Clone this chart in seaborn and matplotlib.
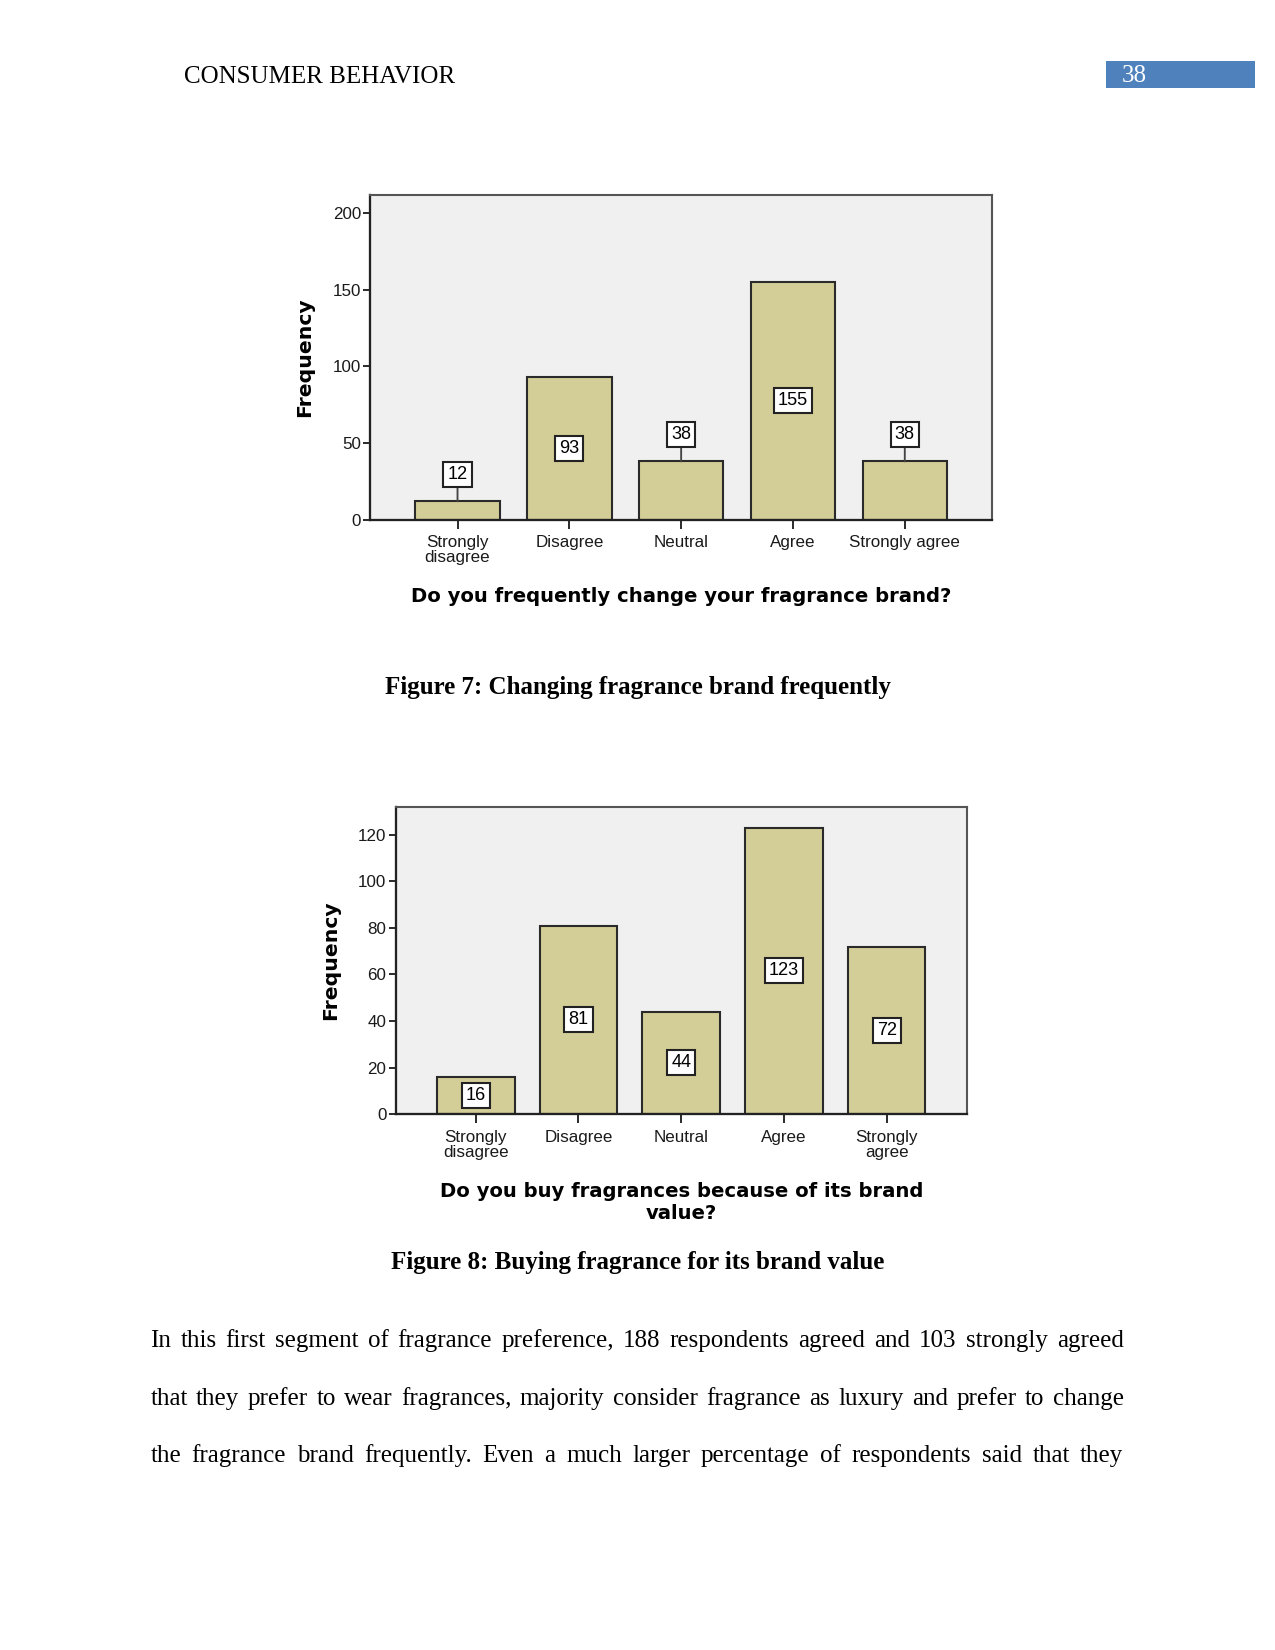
import numpy as np
import pandas as pd
import matplotlib
matplotlib.use("Agg")
import matplotlib.pyplot as plt
from matplotlib.patches import Rectangle
import seaborn as sns

# ---------------- data ----------------
header_text = "CONSUMER BEHAVIOR"
page_number = "38"

categories1 = ["Strongly\ndisagree", "Disagree", "Neutral", "Agree", "Strongly agree"]
values1 = [12, 93, 38, 155, 38]
yticks1 = [0, 50, 100, 150, 200]
xlabel1 = "Do you frequently change your fragrance brand?"
caption1 = "Figure 7: Changing fragrance brand frequently"

categories2 = ["Strongly\ndisagree", "Disagree", "Neutral", "Agree", "Strongly\nagree"]
values2 = [16, 81, 44, 123, 72]
yticks2 = [0, 20, 40, 60, 80, 100, 120]
xlabel2 = "Do you buy fragrances because of its brand\nvalue?"
caption2 = "Figure 8: Buying fragrance for its brand value"

ylabel = "Frequency"

body_lines = [
    "In this first segment of fragrance preference, 188 respondents agreed and 103 strongly agreed",
    "that they prefer to wear fragrances, majority consider fragrance as luxury and prefer to change",
    "the fragrance brand frequently. Even a much larger percentage of respondents said that they",
]

# ---------------- style ----------------
sns.set_theme(style="white")
plt.rcParams["font.family"] = ["Liberation Sans", "DejaVu Sans"]
plt.rcParams["text.color"] = "black"
plt.rcParams["axes.labelcolor"] = "black"
plt.rcParams["xtick.color"] = "#222222"
plt.rcParams["ytick.color"] = "#222222"
plt.rcParams["xtick.labelcolor"] = "#1a1a1a"
plt.rcParams["ytick.labelcolor"] = "#1a1a1a"

W, H = 1275, 1650
DPI = 150
fig = plt.figure(figsize=(W / DPI, H / DPI), dpi=DPI)
fig.patch.set_facecolor("white")

BAR = "#D3CE97"
BG = "#F0F0F0"
SERIF = ["Liberation Serif", "DejaVu Serif"]
BOLDSANS = ["DejaVu Sans"]


def fx(px):
    return px / W


def fy(py):
    return 1 - py / H


def axes_rect(left, right, top, bottom):
    return [fx(left), fy(bottom), fx(right) - fx(left), fy(top) - fy(bottom)]


def draw_chart(ax, cats, vals, yticks, ymax, xlabel, inside_min, xl_y, yl_x):
    df = pd.DataFrame({"cat": cats, "val": vals})
    ax.set_facecolor(BG)
    sns.barplot(data=df, x="cat", y="val", ax=ax, color=BAR, saturation=1,
                edgecolor="#2a2a2a", linewidth=1.0, width=0.755)
    ax.set_xlim(-0.78, 4.78)
    ax.set_ylim(0, ymax)
    ax.set_yticks(yticks)
    ax.set_yticklabels([str(t) for t in yticks])
    ax.tick_params(axis="y", direction="out", length=3.2, width=0.9,
                   labelsize=8.2, pad=1.2, left=True)
    ax.tick_params(axis="x", direction="out", length=4.5, width=0.9,
                   labelsize=8.2, pad=3, bottom=True)
    for lab in ax.get_xticklabels():
        lab.set_linespacing(1.0)
    for side in ["top", "right"]:
        ax.spines[side].set_color("#555555")
        ax.spines[side].set_linewidth(1.0)
    for side in ["left", "bottom"]:
        ax.spines[side].set_color("#222222")
        ax.spines[side].set_linewidth(1.1)
    ax.set_xlabel(xlabel, fontsize=9.4, fontweight="bold", family=BOLDSANS,
                  linespacing=1.22)
    ax.xaxis.set_label_coords(0.5, xl_y)
    ax.xaxis.label.set_va("center")
    ax.set_ylabel(ylabel, fontsize=9.8, fontweight="bold", family=BOLDSANS)
    ax.yaxis.set_label_coords(yl_x, 0.5)
    ax.yaxis.label.set_va("center")

    box = dict(boxstyle="square,pad=0.22", facecolor="white", edgecolor="#222222",
               linewidth=1.0)
    for i, v in enumerate(vals):
        if v >= inside_min:
            ax.annotate(str(v), xy=(i, v / 2), ha="center", va="center",
                        fontsize=8.7, bbox=box)
        else:
            ax.annotate(str(v), xy=(i, v), xytext=(0, 13), textcoords="offset points",
                        ha="center", va="center", fontsize=8.7, bbox=box,
                        arrowprops=dict(arrowstyle="-", color="#444444", lw=0.9,
                                        shrinkA=0, shrinkB=0))


# chart 1
ax1 = fig.add_axes(axes_rect(370.3, 992.0, 194.6, 519.7))
draw_chart(ax1, categories1, values1, yticks1, 212, xlabel1, inside_min=50,
           xl_y=-0.236, yl_x=-0.105)

# chart 2
ax2 = fig.add_axes(axes_rect(395.6, 966.8, 806.9, 1114.1))
draw_chart(ax2, categories2, values2, yticks2, 132, xlabel2, inside_min=0,
           xl_y=-0.288, yl_x=-0.114)

# header
fig.text(fx(184), fy(77), header_text, family=SERIF, fontsize=12,
         ha="left", va="center", color="black")
fig.patches.append(Rectangle((fx(1105.7), fy(88.4)), fx(1255) - fx(1105.7),
                             fy(61) - fy(88.4), transform=fig.transFigure,
                             facecolor="#4F81BD", edgecolor="none"))
fig.text(fx(1134), fy(76.5), page_number, family=SERIF, fontsize=12,
         ha="center", va="center", color="white")

# captions
fig.text(fx(637.5), fy(687.5), caption1, family=SERIF, fontsize=12, fontweight="bold",
         ha="center", va="center", color="black")
fig.text(fx(637.5), fy(1262), caption2, family=SERIF, fontsize=12, fontweight="bold",
         ha="center", va="center", color="black")

# justified body text
renderer = fig.canvas.get_renderer()
left_px, right_px = 150.4, 1123.5
line_y = [1341, 1399, 1456]
for line, ypx in zip(body_lines, line_y):
    words = line.split()
    texts = [fig.text(0, fy(ypx), w, family=SERIF, fontsize=12, ha="left",
                      va="center", color="black") for w in words]
    widths = [t.get_window_extent(renderer).width for t in texts]
    gap = (right_px - left_px - sum(widths)) / (len(words) - 1)
    x = left_px
    for t, wd in zip(texts, widths):
        t.set_x(fx(x))
        x += wd + gap

fig.savefig("out.png", dpi=DPI, facecolor="white")
